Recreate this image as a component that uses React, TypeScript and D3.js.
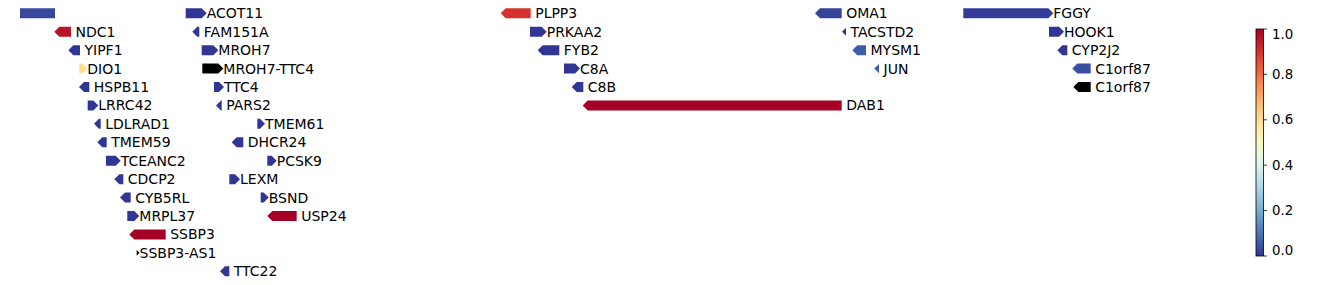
import React from "react";
import * as d3 from "d3";

// Gene track data (positions in kb relative to region start)
const geneNames = [
  "", "NDC1", "YIPF1", "DIO1", "HSPB11", "LRRC42", "LDLRAD1", "TMEM59", "TCEANC2", "CDCP2",
  "CYB5RL", "MRPL37", "SSBP3", "SSBP3-AS1", "ACOT11", "FAM151A", "MROH7", "MROH7-TTC4", "TTC4", "PARS2",
  "TMEM61", "DHCR24", "PCSK9", "LEXM", "BSND", "USP24", "TTC22", "PLPP3", "PRKAA2", "FYB2",
  "C8A", "C8B", "DAB1", "OMA1", "TACSTD2", "MYSM1", "JUN", "FGGY", "HOOK1", "CYP2J2",
  "C1orf87", "C1orf87",
];
const geneStarts = [
  -12, 34.3, 48.3, 59.3, 59, 67.7, 74, 77.3, 86, 94.3,
  100, 107.3, 109.3, 116.7, 165.7, 172.3, 181.7, 182.3, 194, 196,
  237.3, 211.7, 247.3, 209.3, 240.7, 247.3, 200, 480.7, 510, 517.7,
  544, 551.7, 562.7, 795, 822, 832.3, 854.3, 943.3, 1029, 1037.3,
  1052.3, 1053.3,
];
const geneEnds = [
  35, 51, 60, 67.3, 69.3, 78.3, 80.7, 86.7, 100.7, 103.3,
  110.7, 119.3, 145.7, 119.5, 186.7, 179.3, 198.3, 203.3, 204, 201.7,
  245, 223.3, 256.7, 220, 248.7, 276.7, 209.3, 510.7, 526.7, 539.3,
  560, 563.3, 821.7, 821.7, 826, 846, 859, 1033.3, 1044, 1047.3,
  1070.7, 1070.7,
];
const geneStrands = [
  "-", "-", "-", "+", "-", "+", "-", "-", "+", "-",
  "-", "+", "-", "+", "+", "-", "+", "+", "+", "-",
  "+", "-", "+", "+", "+", "-", "-", "-", "+", "-",
  "+", "-", "-", "-", "-", "-", "-", "+", "+", "-",
  "-", "-",
];
const geneRows = [
  0, 1, 2, 3, 4, 5, 6, 7, 8, 9,
  10, 11, 12, 13, 0, 1, 2, 3, 4, 5,
  6, 7, 8, 9, 10, 11, 14, 0, 1, 2,
  3, 4, 5, 0, 1, 2, 3, 0, 1, 2,
  3, 4,
];
const geneValues = [
  0.03, 0.96, 0, 0.6, 0, 0, 0, 0, 0, 0,
  0, 0, 1.0, NaN, 0, 0, 0, NaN, 0, 0,
  0, 0, 0, 0, 0, 1.0, 0, 0.9, 0, 0,
  0, 0, 1.0, 0.02, 0, 0.06, 0.06, 0.01, 0, 0,
  0.04, NaN,
];
const colorbarTicks = [0, 0.2, 0.4, 0.6, 0.8, 1.0];

const W = 1338;
const H = 285;

export default function App() {
  const x = d3.scaleLinear().domain([0, 1220]).range([20, 1240]);
  const y = d3.scaleLinear().domain([0, 14]).range([13.3, 271.3]);
  const color = (v: number) => (isNaN(v) ? "#000000" : d3.interpolateRdYlBu(1 - v));
  const halfH = 5;
  const headLen = 5;

  const arrowPath = (s: number, e: number, strand: string, cy: number) => {
    const x0 = x(s);
    const x1 = x(e);
    const L = x1 - x0;
    const hl = Math.min(headLen, L);
    const hh = L < headLen ? halfH * (L / headLen) : halfH;
    if (strand === "+") {
      if (L <= headLen) {
        return `M${x0},${cy - hh}L${x1},${cy}L${x0},${cy + hh}Z`;
      }
      return `M${x0},${cy - halfH}L${x1 - hl},${cy - halfH}L${x1},${cy}L${x1 - hl},${cy + halfH}L${x0},${cy + halfH}Z`;
    } else {
      if (L <= headLen) {
        return `M${x1},${cy - hh}L${x0},${cy}L${x1},${cy + hh}Z`;
      }
      return `M${x1},${cy - halfH}L${x0 + hl},${cy - halfH}L${x0},${cy}L${x0 + hl},${cy + halfH}L${x1},${cy + halfH}Z`;
    }
  };

  // colorbar
  const cbX = 1256;
  const cbW = 7.5;
  const cb = d3.scaleLinear().domain([0, 1]).range([256, 29]);
  const stops = d3.range(0, 1.0001, 0.05);

  return (
    <svg
      width={W}
      height={H}
      style={{ position: "absolute", left: 0, top: 0, fontFamily: "DejaVu Sans", background: "#fff" }}
    >
      <defs>
        <clipPath id="plotclip">
          <rect x={20} y={0} width={1220} height={H} />
        </clipPath>
        <linearGradient id="cbgrad" x1="0" y1="1" x2="0" y2="0">
          {stops.map((t, i) => (
            <stop key={i} offset={`${t * 100}%`} stopColor={color(t)} />
          ))}
        </linearGradient>
      </defs>
      <g clipPath="url(#plotclip)">
        {geneNames.map((name, i) => {
          const cy = y(geneRows[i]);
          return (
            <path
              key={`a${i}`}
              d={arrowPath(geneStarts[i], geneEnds[i], geneStrands[i], cy)}
              fill={color(geneValues[i])}
            />
          );
        })}
        {geneNames.map((name, i) => {
          if (!name) return null;
          const cy = y(geneRows[i]);
          const lx = x(geneEnds[i]) + (geneStrands[i] === "+" ? 0 : 4.5);
          return (
            <text
              key={`t${i}`}
              x={lx}
              y={cy}
              dominantBaseline="central"
              fontSize={14}
              fill="#000"
            >
              {name}
            </text>
          );
        })}
      </g>
      <g>
        <rect x={cbX} y={cb(1)} width={cbW} height={cb(0) - cb(1)} fill="url(#cbgrad)" />
        <rect
          x={cbX}
          y={cb(1)}
          width={cbW}
          height={cb(0) - cb(1)}
          fill="none"
          stroke="#000"
          strokeWidth={0.8}
        />
        {colorbarTicks.map((t, i) => {
          const ty = cb(t);
          let labelY = ty;
          let base: any = "central";
          if (t === 1) {
            labelY = ty + 0.5;
            base = "hanging";
          } else if (t === 0) {
            labelY = ty - 1;
            base = "auto";
          }
          return (
            <g key={`c${i}`}>
              <line x1={cbX + cbW} x2={cbX + cbW + 3.5} y1={ty} y2={ty} stroke="#000" strokeWidth={0.8} />
              <text x={1272} y={labelY} dominantBaseline={base} fontSize={13.33} fill="#000">
                {t.toFixed(1)}
              </text>
            </g>
          );
        })}
      </g>
    </svg>
  );
}
